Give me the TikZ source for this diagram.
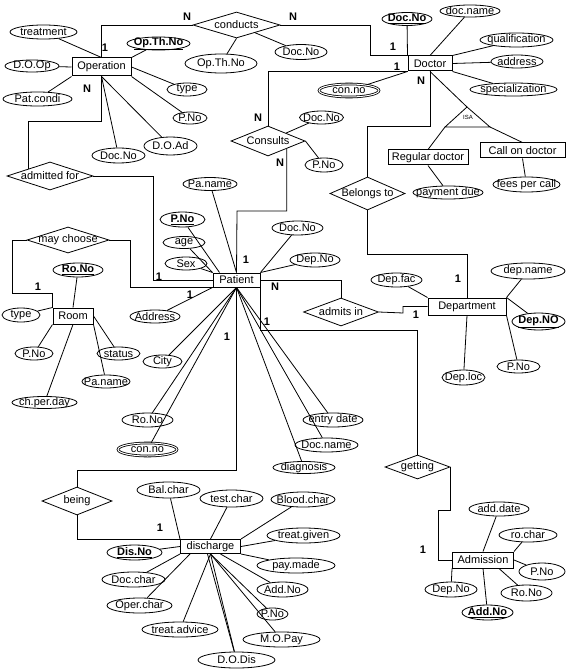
\documentclass[tikz,border=0pt]{standalone}
\usepackage{fontspec}
\setmainfont{Liberation Sans}
\usetikzlibrary{shapes.geometric}

\tikzset{
  ent/.style={draw, rectangle, line width=1pt, inner sep=0pt},
  rel/.style={draw, diamond, aspect=3, inner sep=-3pt},
  attr/.style={draw, ellipse, inner xsep=-8pt, inner ysep=-2pt},
  keyattr/.style={attr, font=\fontsize{11}{13}\selectfont\bfseries},
  multattr/.style={attr, double, double distance=1pt},
  card/.style={font=\fontsize{11}{13}\selectfont\bfseries, inner sep=0pt}
}

\begin{document}
\begin{tikzpicture}[x=1pt, y=-1pt, line width=0.8pt, font=\fontsize{11}{13}\selectfont]
\useasboundingbox (0,0) rectangle (566,671);

% entities
\node[ent, minimum width=59pt, minimum height=18pt] (op) at (101.5,67) {Operation};
\node[ent, minimum width=44pt, minimum height=15pt] (doc) at (430,63.5) {Doctor};
\node[ent, minimum width=47pt, minimum height=14pt] (pat) at (236.5,280) {Patient};
\node[ent, minimum width=40pt, minimum height=16pt] (room) at (73,316) {Room};
\node[ent, minimum width=78pt, minimum height=17pt] (dept) at (467,306.5) {Department};
\node[ent, minimum width=61pt, minimum height=16pt] (adm) at (483,560) {Admission};
\node[ent, minimum width=60pt, minimum height=14pt] (dis) at (210.5,546.5) {discharge};
\node[ent, minimum width=80pt, minimum height=15pt] (reg) at (428,157.5) {Regular doctor};
\node[ent, minimum width=85pt, minimum height=15pt] (call) at (522.5,150.5) {Call on doctor};

% relationships
\node[rel, minimum width=87pt, minimum height=26pt] (cond) at (236.5,25) {conducts};
\node[rel, minimum width=74pt, minimum height=30pt] (cons) at (268,141) {Consults};
\node[rel, minimum width=86pt, minimum height=28pt] (admf) at (50,176) {admitted for};
\node[rel, minimum width=82pt, minimum height=26pt] (may) at (68,240) {may choose};
\node[rel, minimum width=75pt, minimum height=33pt] (bel) at (367.5,193.5) {Belongs to};
\node[rel, minimum width=75pt, minimum height=28pt] (admin) at (341,312) {admits in};
\node[rel, minimum width=65pt, minimum height=24pt] (get) at (417.5,467) {getting};
\node[rel, minimum width=70pt, minimum height=28pt] (being) at (77,501) {being};

% ISA
\coordinate (isatop) at (467,107);
\coordinate (isal) at (445,127);
\coordinate (isar) at (490,127);
\draw (isatop) -- (isal) -- (isar) -- cycle;
\node[font=\fontsize{6}{7}\selectfont, inner sep=0pt] (isa) at (468,117) {ISA};

% Operation attributes
\node[attr, minimum width=67pt, minimum height=14pt] (treat) at (43.5,32) {treatment};
\node[keyattr, minimum width=63pt, minimum height=13pt] (opthno) at (158.5,43.5) {\underline{Op.Th.No}};
\node[attr, minimum width=54pt, minimum height=12pt] (doop) at (32,66) {D.O.Op};
\node[attr, minimum width=69pt, minimum height=14pt] (patcondi) at (37.5,99) {Pat.condi};
\node[attr, minimum width=40pt, minimum height=13pt] (optype) at (187,89.5) {type};
\node[attr, minimum width=34pt, minimum height=12pt] (oppno) at (190,118) {P.No};
\node[attr, minimum width=53pt, minimum height=18pt] (doad) at (170.5,146) {D.O.Ad};
\node[attr, minimum width=53pt, minimum height=15pt] (opdocno) at (118.5,155.5) {Doc.No};

% conducts attributes
\node[attr, minimum width=72pt, minimum height=19pt] (cothno) at (221,63.5) {Op.Th.No};
\node[attr, minimum width=52pt, minimum height=15pt] (codocno) at (301,52) {Doc.No};

% Doctor attributes
\node[keyattr, minimum width=50pt, minimum height=13pt] (docno) at (407,19) {\underline{Doc.No}};
\node[attr, minimum width=60pt, minimum height=12pt] (docname) at (470,11) {doc.name};
\node[attr, minimum width=73pt, minimum height=14pt] (qual) at (516.5,40) {qualification};
\node[attr, minimum width=52pt, minimum height=13pt] (daddr) at (517,61.5) {address};
\node[attr, minimum width=87pt, minimum height=13pt] (spec) at (513.5,89.5) {specialization};
\node[multattr, minimum width=60pt, minimum height=13pt] (dconno) at (349,90.5) {con.no};
\node[attr, minimum width=70pt, minimum height=13pt] (paydue) at (448,192.5) {payment due};
\node[attr, minimum width=67pt, minimum height=15pt] (fees) at (526.5,184.5) {fees per call};

% Consults attributes
\node[attr, minimum width=44pt, minimum height=13pt] (csdocno) at (321.5,117.5) {Doc.No};
\node[attr, minimum width=38pt, minimum height=14pt] (cspno) at (324,165) {P.No};

% Patient attributes
\node[attr, minimum width=54pt, minimum height=13pt] (paname) at (210,184) {Pa.name};
\node[keyattr, minimum width=45pt, minimum height=15pt] (pno) at (182.5,219.5) {\underline{P.No}};
\node[attr, minimum width=42pt, minimum height=12pt] (age) at (184,242.5) {age};
\node[attr, minimum width=42pt, minimum height=13pt] (sex) at (186,263.5) {Sex};
\node[attr, minimum width=51pt, minimum height=14pt] (pdocno) at (297.5,228) {Doc.No};
\node[attr, minimum width=50pt, minimum height=14pt] (pdepno) at (315,260) {Dep.No};
\node[attr, minimum width=50pt, minimum height=13pt] (paddr) at (155,316.5) {Address};
\node[attr, minimum width=39pt, minimum height=13pt] (city) at (162.5,361.5) {City};
\node[attr, minimum width=51pt, minimum height=14pt] (prono) at (147.5,420) {Ro.No};
\node[multattr, minimum width=59pt, minimum height=13pt] (pconno) at (147.5,449.5) {con.no};
\node[attr, minimum width=60pt, minimum height=14pt] (entry) at (333,420) {entry date};
\node[attr, minimum width=63pt, minimum height=14pt] (pdocname) at (326.5,445) {Doc.name};
\node[attr, minimum width=62pt, minimum height=12pt] (diag) at (304,467.5) {diagnosis};

% Room attributes
\node[keyattr, minimum width=50pt, minimum height=14pt] (rono) at (78,270) {\underline{Ro.No}};
\node[attr, minimum width=38pt, minimum height=14pt] (rtype) at (21,315) {type};
\node[attr, minimum width=38pt, minimum height=13pt] (rpno) at (34,353.5) {P.No};
\node[attr, minimum width=43pt, minimum height=13pt] (status) at (118.5,353.5) {status};
\node[attr, minimum width=48pt, minimum height=13pt] (rpaname) at (106,381.5) {Pa.name};
\node[attr, minimum width=65pt, minimum height=12pt] (chper) at (44.5,402.5) {ch.per.day};

% Department attributes
\node[attr, minimum width=51pt, minimum height=14pt] (depfac) at (396.5,280) {Dep.fac};
\node[attr, minimum width=74pt, minimum height=16pt] (depname) at (528,271) {dep.name};
\node[keyattr, minimum width=53pt, minimum height=17pt] (depno) at (538.5,321.5) {\underline{Dep.NO}};
\node[attr, minimum width=43pt, minimum height=13pt] (dpno) at (518.5,366.5) {P.No};
\node[attr, minimum width=43pt, minimum height=15pt] (deploc) at (463.5,377.5) {Dep.loc};

% Admission attributes
\node[attr, minimum width=60pt, minimum height=14pt] (adddate) at (499,509) {add.date};
\node[attr, minimum width=58pt, minimum height=14pt] (rochar) at (528,535) {ro.char};
\node[attr, minimum width=46pt, minimum height=17pt] (apno) at (542,571.5) {P.No};
\node[attr, minimum width=51pt, minimum height=16pt] (arono) at (526.5,593) {Ro.No};
\node[attr, minimum width=52pt, minimum height=15pt] (adepno) at (451,589.5) {Dep.No};
\node[keyattr, minimum width=51pt, minimum height=15pt] (addno) at (487.5,612.5) {\underline{Add.No}};

% discharge attributes
\node[attr, minimum width=63pt, minimum height=16pt] (balchar) at (168.5,490) {Bal.char};
\node[attr, minimum width=63pt, minimum height=17pt] (testchar) at (231.5,498.5) {test.char};
\node[attr, minimum width=64pt, minimum height=15pt] (bloodchar) at (303,499.5) {Blood.char};
\node[attr, minimum width=73pt, minimum height=15pt] (treatgiven) at (303.5,535.5) {treat.given};
\node[attr, minimum width=78pt, minimum height=15pt] (paymade) at (296,565.5) {pay.made};
\node[attr, minimum width=51pt, minimum height=15pt] (daddno) at (282.5,589.5) {Add.No};
\node[attr, minimum width=31pt, minimum height=12pt] (dispno) at (272.5,614) {P.No};
\node[attr, minimum width=77pt, minimum height=15pt] (mopay) at (281.5,639.5) {M.O.Pay};
\node[attr, minimum width=77pt, minimum height=16pt] (dodis) at (236.5,660) {D.O.Dis};
\node[keyattr, minimum width=55pt, minimum height=15pt] (disno) at (134.5,552.5) {\underline{Dis.No}};
\node[attr, minimum width=63pt, minimum height=15pt] (docchar) at (133.5,579.5) {Doc.char};
\node[attr, minimum width=65pt, minimum height=15pt] (operchar) at (139.5,605.5) {Oper.char};
\node[attr, minimum width=76pt, minimum height=15pt] (treatadv) at (180,629.5) {treat.advice};

% bends
\coordinate (b1) at (153,176);
\coordinate (b2) at (12,293);
\coordinate (b3) at (130,240);
\coordinate (b4) at (370,25);
\coordinate (b5) at (237,211);
\coordinate (b6) at (367.5,126);
\coordinate (b7) at (403,313);
\coordinate (b8) at (438,510);
\coordinate (b9) at (77,470);

% relationship lines
\draw (op.north) |- (cond.west);
\draw (cond.east) -- (b4) |- (doc.north west);
\draw (cons.north) |- (doc.south west);
\draw (op.south) -- ++(0,45) -| (admf.north west);
\draw (admf.east) -- (b1) |- (pat.west);
\draw (may.west) -| (b2) -| (room.north west);
\draw (may.east) -- (b3) |- (pat.south west);
\draw (cons.south east) |- (b5) -- (pat.north);
\draw (doc.south) |- (b6) -- (bel.north);
\draw (bel.south) -- ++(0,44) -| (dept.north);
\draw (pat.east) -| (admin.north);
\draw (admin.east) -- (b7) |- (dept.west);
\draw (pat.south east) -- ++(0,43) -| (get.north);
\draw (get.east) |- (b8) |- (adm.west);
\draw (pat.south) |- (b9) -- (being.north);
\draw (being.south) |- (dis.north west);
\draw (doc.south) -- (isatop);
\draw (isar) -- (call.north);
\draw (isal) -- (reg.north);

% attribute lines
\draw (op.north) -- (treat);
\draw (op.north east) -- (opthno);
\draw (op.west) -- (doop);
\draw (op.south west) -- (patcondi);
\draw (op.east) -- (optype);
\draw (op.south east) -- (oppno);
\draw (op.south) -- (doad);
\draw (op.south) -- (opdocno);
\draw (cond.south) -- (cothno);
\draw (cond) -- (codocno);
\draw (doc.north west) -- (docno);
\draw (doc.north) -- (docname);
\draw (doc.north east) -- (qual);
\draw (doc.east) -- (daddr);
\draw (doc.south east) -- (spec);
\draw (doc.south west) -- (dconno);
\draw (reg.south) -- (paydue);
\draw (call.south) -- (fees);
\draw (cons) -- (csdocno);
\draw (cons.east) -- (cspno);
\draw (pat.north) -- (paname);
\draw ([xshift=7pt]pat.north west) -- (pno);
\draw (pat.north west) -- (age);
\draw (pat.north west) -- (sex);
\draw (pat.north east) -- (pdocno);
\draw (pat.north east) -- (pdepno);
\draw (pat.south west) -- (paddr);
\foreach \a in {city, prono, pconno, entry, pdocname, diag}
  \draw (pat.south) -- (\a);
\draw (room.north) -- (rono);
\draw (room.north west) -- (rtype);
\draw (room.south west) -- (rpno);
\draw (room.east) -- (status);
\draw (room.south east) -- (rpaname);
\draw (room.south) -- (chper);
\draw (dept.north west) -- (depfac);
\draw (dept.north east) -- (depname);
\draw (dept.north east) -- (depno);
\draw (dept.south east) -- (dpno);
\draw (dept.south) -- (deploc);
\draw (adm.north) -- (adddate);
\draw (adm.north east) -- (rochar);
\draw (adm.east) -- (apno);
\draw ([xshift=-15pt]adm.south east) -- (arono);
\draw (adm.south west) -- (adepno);
\draw (adm.south) -- (addno);
\draw (dis.north west) -- (balchar);
\draw (dis.north) -- (testchar);
\draw (dis.north east) -- (bloodchar);
\draw (dis.east) -- (treatgiven);
\draw (dis.south east) -- (paymade);
\draw ([xshift=10pt]dis.south) -- (daddno);
\foreach \a in {dispno, mopay, dodis, treatadv}
  \draw (dis.south) -- (\a);
\draw ([xshift=-3pt]dis.south) -- (dodis);
\draw (dis.west) -- (disno);
\draw (dis.south west) -- (docchar);
\draw ([xshift=10pt]dis.south west) -- (operchar);

% cardinalities
\foreach \x/\y/\t [count=\i] in {187/17/N, 293/17/N, 105/48/1, 393/47/1, 397/67/1,
    258/118/N, 87/89/N, 280/163/N, 246/260/1, 421/81/N, 458/279/1, 159/277/1,
    190/295/1, 38/287/1, 275/287/N, 416/315/1, 267/322/1, 423/550/1, 227/337/1, 160/528/1}
  \node[card] (card\i) at (\x,\y) {\t};
\end{tikzpicture}
\end{document}
